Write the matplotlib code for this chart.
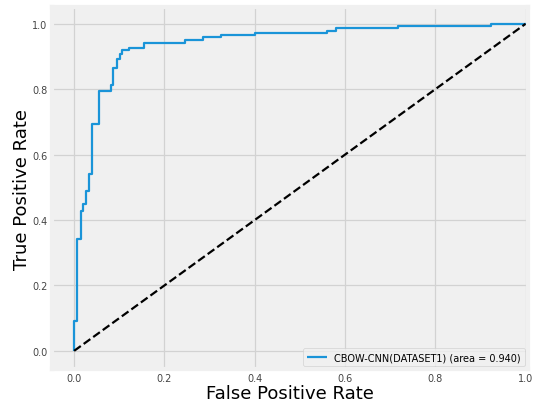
import matplotlib
matplotlib.use("Agg")
import matplotlib.pyplot as plt

fpr = [0.0, 0.0, 0.006, 0.006, 0.0147, 0.0147, 0.019, 0.019, 0.0265, 0.0265,
       0.034, 0.034, 0.040, 0.040, 0.055, 0.055, 0.081, 0.081, 0.087, 0.087,
       0.094, 0.094, 0.101, 0.101, 0.107, 0.107, 0.121, 0.121, 0.154, 0.154,
       0.246, 0.246, 0.286, 0.286, 0.326, 0.326, 0.400, 0.400, 0.559, 0.559,
       0.579, 0.579, 0.718, 0.718, 0.924, 0.924, 1.0]
tpr = [0.0, 0.09, 0.09, 0.342, 0.342, 0.429, 0.429, 0.449, 0.449, 0.488,
       0.488, 0.542, 0.542, 0.694, 0.694, 0.795, 0.795, 0.813, 0.813, 0.866,
       0.866, 0.893, 0.893, 0.907, 0.907, 0.919, 0.919, 0.925, 0.925, 0.940,
       0.940, 0.951, 0.951, 0.960, 0.960, 0.967, 0.967, 0.973, 0.973, 0.978,
       0.978, 0.987, 0.987, 0.993, 0.993, 1.0, 1.0]
label = "CBOW-CNN(DATASET1) (area = 0.940)"
chance_x = [0, 1]
chance_y = [0, 1]

plt.style.use("fivethirtyeight")
fig = plt.figure(figsize=(5.37, 4.02), dpi=100)
fig.patch.set_facecolor("white")
ax = fig.add_axes([0.096, 0.08, 0.887, 0.899])
ax.set_facecolor("#f0f0f0")
ax.plot(fpr, tpr, color="#1a94d8", lw=1.6, label=label)
ax.plot(chance_x, chance_y, "k--", lw=1.6)
ax.set_xlim(-0.05, 1.005)
ax.set_ylim(-0.055, 1.05)
ax.set_xticks([0.0, 0.2, 0.4, 0.6, 0.8, 1.0])
ax.set_yticks([0.0, 0.2, 0.4, 0.6, 0.8, 1.0])
ax.tick_params(labelsize=7, colors="#444444", length=0, pad=3)
ax.grid(True, color="#d2d2d2", lw=0.9)
ax.set_xlabel("False Positive Rate", fontsize=13, labelpad=1)
ax.set_ylabel("True Positive Rate", fontsize=13, labelpad=1)
leg = ax.legend(loc="lower right", fontsize=7, frameon=True, borderaxespad=0.3)
leg.get_frame().set_facecolor("#f0f0f0")
leg.get_frame().set_edgecolor("#cccccc")
fig.savefig("out.png", dpi=100, facecolor="white")
